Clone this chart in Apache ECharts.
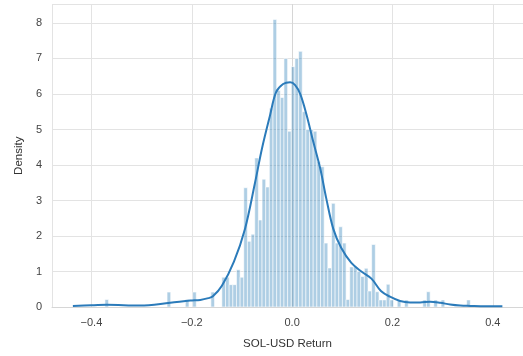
<!DOCTYPE html>
<html><head><meta charset="utf-8">
<script src="https://cdn.jsdelivr.net/npm/echarts@6/dist/echarts.min.js"></script>
<style>html,body{margin:0;padding:0;background:#fff}#c{width:523px;height:356px}</style>
</head><body><div id="c"></div>
<script>
// Histogram: 100 equal bins between histMin and histMax, density per bin
const histMin = -0.3731;
const histMax = 0.3551;
const densities = [
  0.21,0,0,0,0,0,0,0,0,0,
  0,0,0,0,0,0,0,0.42,0,0,
  0,0,0.21,0,0.42,0,0,0,0,0.42,
  0,0,0.84,0.84,0.63,0.63,1.05,0.84,3.36,1.85,
  2.05,4.2,2.45,3.6,3.38,5.6,8.1,6.1,5.9,7.0,
  4.95,6.77,7.0,7.2,5.5,5.0,5.0,4.95,4.1,3.95,
  1.8,1.1,2.92,1.8,2.26,1.8,0.21,1.13,1.13,1.0,
  0.86,1.09,0.45,1.76,0.43,0.2,0.2,0.64,0.2,0,
  0.2,0,0.2,0,0,0,0,0.2,0.43,0,
  0.2,0,0.2,0,0,0,0,0,0,0.2
];
// KDE curve
const kdeX = [-0.437,-0.40,-0.369,-0.303,-0.243,-0.203,-0.183,-0.167,-0.158,-0.140,-0.116,-0.094,-0.074,-0.060,-0.044,-0.032,-0.018,-0.004,0.006,0.016,0.028,0.042,0.056,0.068,0.082,0.098,0.118,0.138,0.158,0.177,0.195,0.215,0.235,0.255,0.275,0.295,0.315,0.335,0.355,0.385,0.419];
const kdeY = [0.03,0.05,0.06,0.04,0.12,0.18,0.2,0.25,0.3,0.6,1.28,2.2,3.5,4.47,5.4,6.05,6.28,6.33,6.25,6.0,5.45,4.66,3.9,3.06,2.2,1.66,1.24,1.0,0.8,0.45,0.29,0.17,0.13,0.13,0.15,0.12,0.07,0.04,0.03,0.02,0.02];
const xTickLabels = ['−0.4','−0.2','0.0','0.2','0.4'];
const yTickLabels = ['0','1','2','3','4','5','6','7','8'];
const xName = 'SOL-USD Return';
const yName = 'Density';

const n = densities.length;
const bw = (histMax - histMin) / n;
const barData = [];
densities.forEach((d, i) => { if (d > 0) barData.push([histMin + i * bw, histMin + (i + 1) * bw, d]); });
const kdeData = kdeX.map((x, i) => [x, kdeY[i]]);

const font = 'Liberation Sans, Arial, sans-serif';
const chart = echarts.init(document.getElementById('c'), null, {renderer: 'canvas'});
chart.setOption({
  animation: false,
  backgroundColor: '#fff',
  grid: {left: 52, right: 0, top: 4.5, bottom: 49, containLabel: false},
  xAxis: {
    type: 'value', min: -0.4786, max: 0.4601, minInterval: 0.2, maxInterval: 0.2,
    name: xName, nameLocation: 'middle', nameGap: 31,
    nameTextStyle: {fontFamily: font, fontSize: 11.5, color: '#333'},
    axisLine: {show: true, lineStyle: {color: '#d6d6d6', width: 1}},
    axisTick: {show: false},
    splitLine: {show: true, lineStyle: {color: '#e3e3e3', width: 1}},
    axisLabel: {
      showMinLabel: false, showMaxLabel: false, margin: 10,
      fontFamily: font, fontSize: 11, color: '#444',
      formatter: v => { const idx = Math.round(v / 0.2) + 2; return xTickLabels[idx] !== undefined ? xTickLabels[idx] : ''; }
    }
  },
  yAxis: {
    type: 'value', min: 0, max: 8.52, interval: 1,
    name: yName, nameLocation: 'middle', nameGap: 26, nameRotate: 90,
    nameTextStyle: {fontFamily: font, fontSize: 11.5, color: '#333'},
    axisLine: {show: true, lineStyle: {color: '#d6d6d6', width: 1}},
    axisTick: {show: false},
    splitLine: {show: true, lineStyle: {color: '#e3e3e3', width: 1}},
    axisLabel: {
      showMaxLabel: false, margin: 10,
      fontFamily: font, fontSize: 11, color: '#444',
      formatter: v => { const idx = Math.round(v); return Math.abs(v - idx) < 1e-6 && yTickLabels[idx] !== undefined ? yTickLabels[idx] : ''; }
    }
  },
  series: [
    {
      type: 'custom', z: 2, clip: true,
      data: barData,
      encode: {x: [0, 1], y: 2},
      renderItem: (params, api) => {
        const p0 = api.coord([api.value(0), api.value(2)]);
        const p1 = api.coord([api.value(1), 0]);
        return {type: 'rect', shape: {x: p0[0], y: p0[1], width: p1[0] - p0[0], height: p1[1] - p0[1]},
          style: {fill: 'rgba(31,119,180,0.36)', stroke: '#ffffff', lineWidth: 0.6}};
      }
    },
    {
      type: 'line', z: 3, data: kdeData, smooth: 0.35, symbol: 'none',
      lineStyle: {color: '#2b7bba', width: 2}
    }
  ]
});
</script></body></html>
